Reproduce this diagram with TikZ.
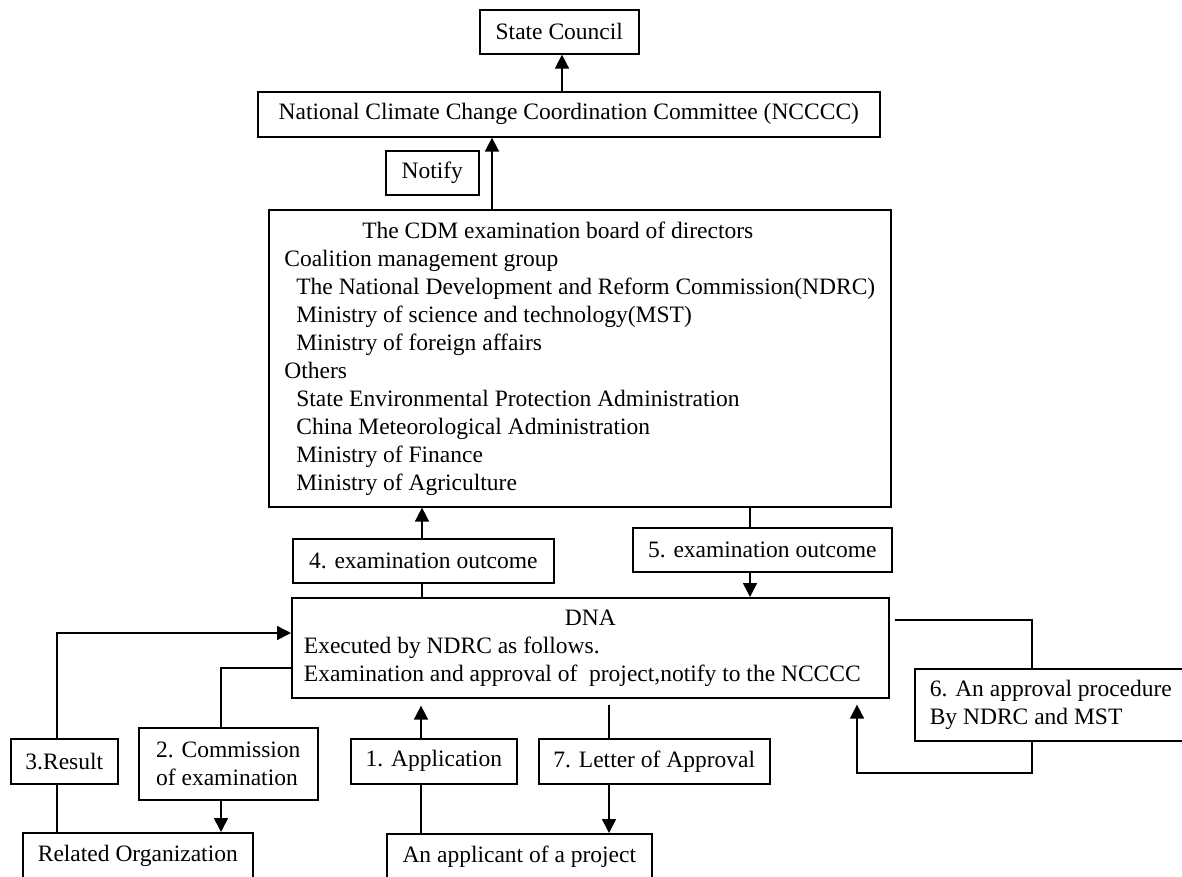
\documentclass[tikz,border=0pt]{standalone}
\usepackage{fontspec}
\setmainfont{Liberation Serif}
\usepackage{tikz}
\usetikzlibrary{arrows.meta}
\tikzstyle{box} = [rectangle, draw=black, line width=1.6pt, inner sep=0pt, anchor=north west, font=\fontsize{23.5}{28}\selectfont]
\tikzstyle{link} = [line width=1.6pt]
\tikzstyle{arrow} = [line width=1.6pt, -{Triangle[length=14pt,width=14pt]}]

\begin{document}
\begin{tikzpicture}[x=1pt, y=-1pt]
        \useasboundingbox (0,0) rectangle (1182,876);
        \clip (0,0) rectangle (1182,876);

        \node (stateCouncil) [box, minimum width=159pt, minimum height=44pt] at (479,9) {State Council};
        \node (ncccc) [box, minimum width=622pt, minimum height=45pt] at (257,91) {National Climate Change Coordination Committee (NCCCC)};
        \node (notify) [box, minimum width=93pt, minimum height=44pt] at (385,150) {Notify};
        \node (cdmBoard) [box, minimum width=622pt, minimum height=297pt, align=left] at (268,209) {\hspace*{78pt}The CDM examination board of directors\\
            Coalition management group\\
            \hspace*{12pt}The National Development and Reform Commission(NDRC)\\
            \hspace*{12pt}Ministry of science and technology(MST)\\
            \hspace*{12pt}Ministry of foreign affairs\\
            Others\\
            \hspace*{12pt}State Environmental Protection Administration\\
            \hspace*{12pt}China Meteorological Administration\\
            \hspace*{12pt}Ministry of Finance\\
            \hspace*{12pt}Ministry of Agriculture};
        \node (outcomeFour) [box, minimum width=261pt, minimum height=44pt] at (292,538) {4. examination outcome};
        \node (outcomeFive) [box, minimum width=259pt, minimum height=44pt] at (632,527) {5. examination outcome};
        \node (dna) [box, minimum width=597pt, minimum height=100pt] at (291,597) {\begin{tabular}{@{}l@{\hspace{16pt}}}
            \multicolumn{1}{@{}c@{}}{DNA}\\
            Executed by NDRC as follows.\\
            Examination and approval of\ \ project,notify to the NCCCC
            \end{tabular}};
        \node (result) [box, minimum width=107pt, minimum height=45pt] at (10,738) {3.Result};
        \node (commission) [box, minimum width=179pt, minimum height=72pt, align=left] at (138,727) {2. Commission\\of examination};
        \node (application) [box, minimum width=166pt, minimum height=45pt] at (350,738) {1. Application};
        \node (letter) [box, minimum width=231pt, minimum height=45pt] at (538,738) {7. Letter of Approval};
        \node (approval) [box, inner xsep=15pt, minimum height=72pt, align=left] at (914,668) {6. An approval procedure\hspace*{20pt}\\By NDRC and MST};
        \node (relatedOrg) [box, minimum width=230pt, minimum height=46pt] at (22,832) {Related Organization};
        \node (applicant) [box, minimum width=265pt, minimum height=45pt] at (386,833) {An applicant of a project};

        % x positions of the vertical connectors and the bends
        \coordinate (councilX) at (562,0);
        \coordinate (notifyX) at (492,0);
        \coordinate (fourX) at (422,0);
        \coordinate (fiveX) at (750,0);
        \coordinate (resultBend) at (57,633);
        \coordinate (commBend) at (221,668);
        \coordinate (applyX) at (421,0);
        \coordinate (letterX) at (609,0);
        \coordinate (approvalTop) at (1032,620);
        \coordinate (approvalLow) at (857,773);

        \draw [arrow] (ncccc.north -| councilX) -- (stateCouncil.south -| councilX);
        \draw [arrow] (cdmBoard.north -| notifyX) -- (ncccc.south -| notifyX);

        \draw [link] (dna.north -| fourX) -- (outcomeFour.south -| fourX);
        \draw [arrow] (outcomeFour.north -| fourX) -- (cdmBoard.south -| fourX);
        \draw [link] (cdmBoard.south -| fiveX) -- (outcomeFive.north -| fiveX);
        \draw [arrow] (outcomeFive.south -| fiveX) -- (dna.north -| fiveX);

        \draw [arrow] (result.north -| resultBend) |- (dna.west |- resultBend);
        \draw [link] (relatedOrg.north -| resultBend) -- (result.south -| resultBend);
        \draw [link] (dna.west |- commBend) -| (commission.north -| commBend);
        \draw [arrow] (commission.south -| commBend) -- (relatedOrg.north -| commBend);

        \draw [link] (applicant.north -| applyX) -- (application.south -| applyX);
        \draw [arrow, shorten >=7pt] (application.north -| applyX) -- (dna.south -| applyX);
        \draw [link, shorten <=6pt] (dna.south -| letterX) -- (letter.north -| letterX);
        \draw [arrow] (letter.south -| letterX) -- (applicant.north -| letterX);

        \draw [link, shorten <=5pt] (dna.east |- approvalTop) -| (approval.north -| approvalTop);
        \draw [arrow, shorten >=6pt] (approval.south -| approvalTop) |- (approvalLow) -- (dna.south -| approvalLow);
\end{tikzpicture}
\end{document}
